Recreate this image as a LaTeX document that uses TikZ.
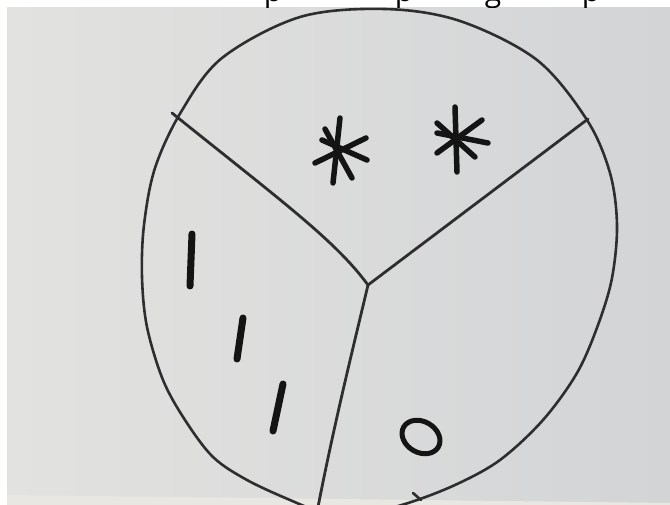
\documentclass[tikz,border=0pt]{standalone}
\usepackage{fontspec}
\newfontfamily\notefont{Open Sans}
\definecolor{paperLight}{HTML}{E2E2E0}
\definecolor{paperDark}{HTML}{D3D4D6}
\definecolor{tableTone}{HTML}{E8E7E1}
\definecolor{rim}{HTML}{2E2E30}
\definecolor{ink}{HTML}{141414}
\tikzset{
    rimline/.style={
        draw=rim,
        line width=2.6pt,
        line join=round
    },
    splitline/.style={
        draw=rim,
        line width=2.8pt,
        line cap=round
    },
    inkstroke/.style={
        draw=ink,
        line width=5.5pt,
        line cap=round
    },
    barstroke/.style={
        draw=ink,
        line width=7pt,
        line cap=round
    },
    fragment/.style={
        font=\notefont\fontsize{30}{36}\selectfont,
        text=black,
        anchor=base,
        inner sep=0pt
    }
}

\begin{document}
\begin{tikzpicture}[x=1pt,y=-1pt]
    \useasboundingbox (0,0) rectangle (670,505);
    \fill[white] (0,0) rectangle (670,505);

    % Photo of the sheet
    \shade[left color=paperLight, right color=paperDark] (7,8) rectangle (670,505);
    \fill[tableTone] (7,495) -- (670,503) -- (670,505) -- (7,505) -- cycle;

    % Cut-off caption line above the photo
    \begin{scope}
        \clip (0,0) rectangle (670,8);
        \foreach \x/\ch in {273/p,404/p,493/g,591/p} {
            \node[fragment] (frag-\x) at (\x,1.5) {\ch};
        }
    \end{scope}

    % Hand-drawn circle
    \draw[rimline] plot[smooth cycle, tension=0.55] coordinates {
        (385,9) (460,21) (537,60) (587,120) (610,173) (617,225)
        (612,278) (598,325) (577,373) (543,420) (500,460)
        (455,485) (405,504) (360,514) (320,511) (290,500)
        (247,480) (213,457) (185,420) (163,380) (147,327) (142,277)
        (144,225) (155,168) (181,112) (222,58) (300,17)};
    \draw[rimline, line cap=round] (413,493) -- (421,500);

    % Three dividers meeting at the hub
    \coordinate (hub) at (368,285);
    \coordinate (left-end) at (172,113);
    \coordinate (right-end) at (588,119);
    \coordinate (bottom-end) at (318,507);
    \draw[splitline] (left-end) .. controls (280,200) and (335,240) .. (hub);
    \draw[splitline] (hub) -- (right-end);
    \draw[splitline] (hub) .. controls (355,340) and (335,420) .. (bottom-end);

    % Asterisks in the top region
    \draw[inkstroke] (340,118) -- (333,183);
    \draw[inkstroke] (325,129) -- (352,178);
    \draw[inkstroke] (315,163) -- (366,138);
    \draw[inkstroke] (322,140) -- (367,160);

    \draw[inkstroke] (455,107) -- (457,172);
    \draw[inkstroke] (437,123) -- (475,157);
    \draw[inkstroke] (437,153) -- (482,120);
    \draw[inkstroke] (437,133) -- (488,143);

    % Strokes in the left region
    \draw[barstroke] (192,234) -- (190,286);
    \draw[barstroke] (243,318) -- (237,359);
    \draw[barstroke] (283,384) -- (273,431);

    % Ring in the right region
    \draw[draw=ink, line width=5pt, rotate around={-30:(421,437)}]
        (421,437) ellipse [x radius=20, y radius=15.5];

\end{tikzpicture}
\end{document}
